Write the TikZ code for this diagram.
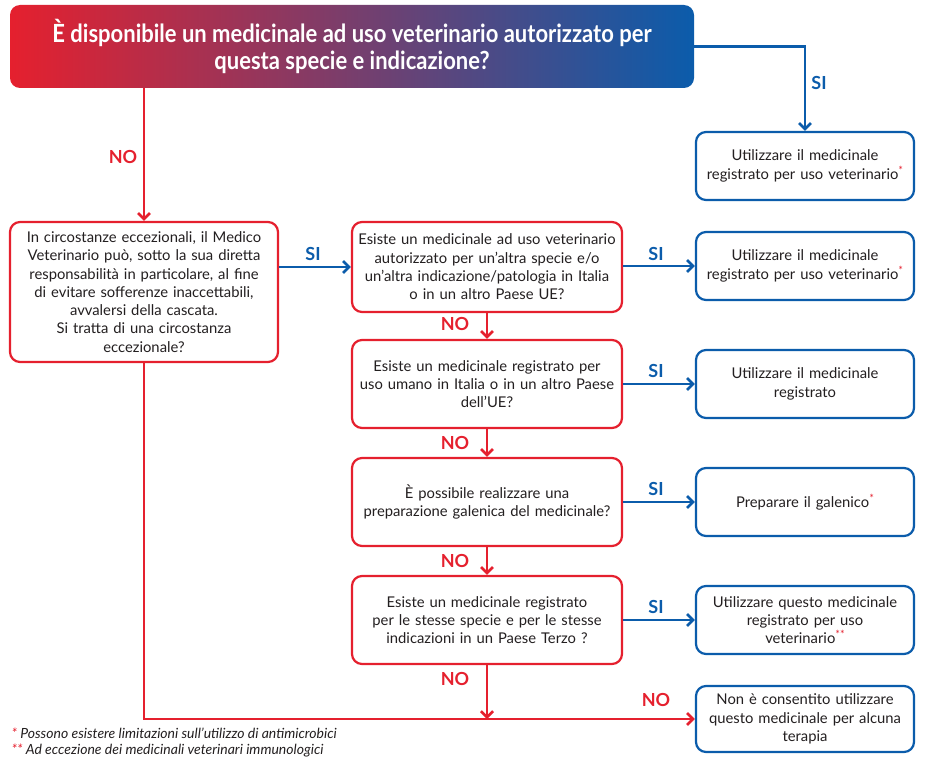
\documentclass[tikz,border=0pt]{standalone}
\usepackage{fontspec}
\setmainfont{Lato}
\newfontfamily\hdrfont[FakeStretch=0.88]{Lato Bold}
\newfontfamily\notefont{Lato Italic}
\usetikzlibrary{arrows.meta}
\definecolor{myred}{HTML}{E5202E}
\definecolor{myblue}{HTML}{0B5CAB}
\definecolor{txt}{HTML}{231F20}
\tikzset{
  every node/.style={text=txt, font=\fontsize{14.8}{18.3}\selectfont},
  redbox/.style={draw=myred, line width=2.2pt, rounded corners=10pt, fill=white, align=center, inner sep=0pt},
  bluebox/.style={draw=myblue, line width=2.2pt, rounded corners=10pt, fill=white, align=center, inner sep=0pt},
  redline/.style={draw=myred, line width=2.8pt},
  blueline/.style={draw=myblue, line width=2.8pt},
  tip/.style={-{Straight Barb[length=6pt,width=12pt,line width=2.6pt]}},
  silab/.style={text=myblue, font=\fontsize{18}{18}\selectfont\bfseries},
  nolab/.style={text=myred, font=\fontsize{18}{18}\selectfont\bfseries}
}
\newcommand{\rast}{\textcolor{myred}{\raisebox{0.35em}{\fontsize{11}{11}\selectfont *}}}
\newcommand{\rrast}{\textcolor{myred}{\raisebox{0.35em}{\fontsize{11}{11}\selectfont **}}}
\begin{document}
\begin{tikzpicture}[x=1pt,y=-1pt]
\useasboundingbox (0,0) rectangle (930,768);
% header
\node[rounded corners=10pt, left color=myred, right color=myblue, minimum width=684pt, minimum height=83pt, inner sep=0pt, align=center, text=white, font=\hdrfont\fontsize{25}{26.5}\selectfont] (hdr) at (352,46.5) {È disponibile un medicinale ad uso veterinario autorizzato per\\questa specie e indicazione?};
% left box
\node[redbox, minimum width=268pt, minimum height=140pt, text width=262pt] (left) at (144,292) {In circostanze eccezionali, il Medico\\Veterinario può, sotto la sua diretta\\responsabilità in particolare, al fine\\di evitare sofferenze inaccettabili,\\avvalersi della cascata.\\Si tratta di una circostanza\\eccezionale?};
% middle boxes
\node[redbox, minimum width=270pt, minimum height=90pt, text width=264pt] (qa) at (487,267) {Esiste un medicinale ad uso veterinario\\autorizzato per un’altra specie e/o\\un’altra indicazione/patologia in Italia\\o in un altro Paese UE?};
\node[redbox, minimum width=270pt, minimum height=88pt, text width=264pt] (qb) at (487,384) {Esiste un medicinale registrato per\\uso umano in Italia o in un altro Paese\\dell’UE?};
\node[redbox, minimum width=270pt, minimum height=88pt, text width=264pt] (qc) at (487,502) {È possibile realizzare una\\preparazione galenica del medicinale?};
\node[redbox, minimum width=270pt, minimum height=88pt, text width=264pt] (qd) at (487,620) {Esiste un medicinale registrato\\per le stesse specie e per le stesse\\indicazioni in un Paese Terzo ?};
% right boxes
\node[bluebox, minimum width=218pt, minimum height=68pt, text width=212pt] (r1) at (805,166) {Utilizzare il medicinale\\registrato per uso veterinario\rast};
\node[bluebox, minimum width=218pt, minimum height=68pt, text width=212pt] (r2) at (805,266) {Utilizzare il medicinale\\registrato per uso veterinario\rast};
\node[bluebox, minimum width=218pt, minimum height=68pt, text width=212pt] (r3) at (805,384) {Utilizzare il medicinale\\registrato};
\node[bluebox, minimum width=218pt, minimum height=68pt, text width=212pt] (r4) at (805,502) {Preparare il galenico\rast};
\node[bluebox, minimum width=218pt, minimum height=68pt, text width=212pt] (r5) at (805,620) {Utilizzare questo medicinale\\registrato per uso\\veterinario\rrast};
\node[bluebox, minimum width=218pt, minimum height=66pt, text width=212pt] (r6) at (805,719) {Non è consentito utilizzare\\questo medicinale per alcuna\\terapia};
% connectors
\coordinate (hj) at (r1.north |- hdr.east);
\draw[blueline, tip] (hdr.east) -- (hj) -- (r1.north);
\node[silab] (s0) at (819,83) {SI};
\draw[redline, tip] (left.north |- hdr.south) -- (left.north);
\node[nolab] (n0) at (123,157) {NO};
\coordinate (bj) at (left.south |- r6.west);
\draw[redline, tip] (left.south) -- (bj) -- (r6.west);
\node[nolab] (n5) at (656,700) {NO};
\draw[blueline, tip] (left.east |- qa.west) -- (qa.west);
\node[silab] (s1) at (313,254) {SI};
\draw[blueline, tip] (qa.east |- r2.west) -- (r2.west);
\node[silab] (s2) at (656,254) {SI};
\draw[blueline, tip] (qb.east) -- (r3.west);
\node[silab] (s3) at (656,371) {SI};
\draw[blueline, tip] (qc.east) -- (r4.west);
\node[silab] (s4) at (656,489) {SI};
\draw[blueline, tip] (qd.east) -- (r5.west);
\node[silab] (s5) at (656,607) {SI};
\draw[redline, tip] (qa.south) -- (qb.north);
\node[nolab] (n1) at (455,324) {NO};
\draw[redline, tip] (qb.south) -- (qc.north);
\node[nolab] (n2) at (455,443) {NO};
\draw[redline, tip] (qc.south) -- (qd.north);
\node[nolab] (n3) at (455,561) {NO};
\coordinate (dj) at (qd.south |- r6.west);
\draw[redline, tip] (qd.south) -- (dj);
\node[nolab] (n4) at (455,679) {NO};
% footnotes
\node[anchor=west, font=\notefont\fontsize{14}{16}\selectfont] (f1) at (8,733) {\textcolor{myred}{*} Possono esistere limitazioni sull’utilizzo di antimicrobici};
\node[anchor=west, font=\notefont\fontsize{14}{16}\selectfont] (f2) at (8,751) {\textcolor{myred}{**} Ad eccezione dei medicinali veterinari immunologici};
\end{tikzpicture}
\end{document}
